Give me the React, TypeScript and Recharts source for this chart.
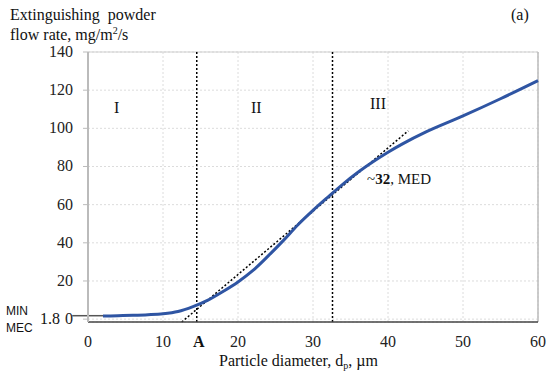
import React from 'react';
import { LineChart, Line, XAxis, YAxis, CartesianGrid, ReferenceLine } from 'recharts';

// particle diameter (µm) vs extinguishing powder flow rate (mg/m²/s)
const diameters = [2, 4, 6, 8, 10, 12, 14, 16, 18, 20, 22, 24, 26, 28, 30, 32, 34, 36, 38, 40, 42, 45, 50, 55, 60];
const flowRates = [1.6, 1.8, 2.0, 2.3, 2.8, 4.0, 6.6, 10, 14.5, 19.5, 25.5, 33, 41, 49.5, 57, 64, 70.8, 77, 82.5, 87.5, 92, 98, 106.5, 115.5, 125];

// dotted tangent through A and MED
const tangentX = [12.5, 42.7];
const tangentY = [-1.5, 98.7];

const xTicks = [0, 10, 20, 30, 40, 50, 60];
const yTicks = [0, 20, 40, 60, 80, 100, 120, 140];

const pointA = 14.5;
const pointMED = 32.6;
const minMEC = 1.8;

const curveData = diameters.map((d, i) => ({ d, v: flowRates[i] }));
const tangentData = tangentX.map((d, i) => ({ d, v: tangentY[i] }));

const serif = '"Liberation Serif", "Times New Roman", serif';

const label = (extra: React.CSSProperties): React.CSSProperties => ({
  position: 'absolute',
  fontFamily: serif,
  fontSize: 16,
  color: '#111',
  whiteSpace: 'nowrap',
  lineHeight: 1,
  ...extra,
});

const XTick = (props: any) => {
  const { x, y, payload } = props;
  return (
    <text x={x} y={y} dy={10} textAnchor="middle" fill="#222" fontSize={16} fontFamily={serif}>
      {payload.value}
    </text>
  );
};

const YTick = (props: any) => {
  const { x, y, payload } = props;
  return (
    <text x={x} y={y} dy={5} textAnchor="end" fill="#222" fontSize={16} fontFamily={serif}>
      {payload.value}
    </text>
  );
};

export default function App() {
  return (
    <div style={{ position: 'absolute', left: 0, top: 0, width: 550, height: 374, background: '#fff', fontFamily: serif }}>
      <LineChart
        width={550}
        height={374}
        margin={{ top: 52, right: 12, bottom: 22, left: 0 }}
      >
        <CartesianGrid strokeDasharray="2 2" stroke="#dcdcdc" />
        <XAxis
          type="number"
          dataKey="d"
          domain={[0, 60]}
          ticks={xTicks}
          height={30}
          tickLine={false}
          axisLine={{ stroke: '#444', strokeWidth: 1.5 }}
          tick={<XTick />}
          tickMargin={9}
        />
        <YAxis
          type="number"
          domain={[0, 140]}
          ticks={yTicks}
          width={88}
          tickSize={5}
          tickLine={{ stroke: '#bbb' }}
          axisLine={{ stroke: '#bbb', strokeWidth: 2 }}
          tick={<YTick />}
          tickMargin={10}
          interval={0}
        />
        <ReferenceLine y={140} stroke="#cfcfcf" />
        <ReferenceLine x={60} stroke="#bbb" strokeWidth={1.5} />
        <ReferenceLine x={pointA} stroke="#000" strokeWidth={1.5} strokeDasharray="2 2" />
        <ReferenceLine x={pointMED} stroke="#000" strokeWidth={1.5} strokeDasharray="2 2" />
        <ReferenceLine
          segment={[{ x: -2.1, y: minMEC }, { x: diameters[0], y: minMEC }]}
          stroke="#555"
          strokeWidth={1.5}
          ifOverflow="visible"
        />
        <Line
          data={tangentData}
          dataKey="v"
          stroke="#000"
          strokeWidth={1.5}
          strokeDasharray="2 2"
          dot={false}
          activeDot={false}
          isAnimationActive={false}
        />
        <Line
          data={curveData}
          dataKey="v"
          type="monotone"
          stroke="#2f55a3"
          strokeWidth={3}
          dot={false}
          activeDot={false}
          isAnimationActive={false}
        />
      </LineChart>

      <div style={label({ left: 10, top: 7 })}>Extinguishing&nbsp; powder</div>
      <div style={label({ left: 10, top: 26 })}>
        flow rate, mg/m<sup style={{ fontSize: 10, verticalAlign: 6 }}>2</sup>/s
      </div>
      <div style={label({ left: 511, top: 7 })}>(a)</div>

      <div style={label({ left: 114, top: 100 })}>I</div>
      <div style={label({ left: 251, top: 100 })}>II</div>
      <div style={label({ left: 370, top: 96 })}>III</div>
      <div style={label({ left: 367, top: 172, fontSize: 15 })}>
        ~<b>32</b>, MED
      </div>

      <div style={label({ left: 193, top: 334, fontWeight: 'bold' })}>A</div>
      <div style={label({ left: 219, top: 353 })}>
        Particle diameter, d<sub style={{ fontSize: 10, verticalAlign: -3 }}>p</sub>, µm
      </div>

      <div style={label({ left: 6, top: 303, fontFamily: '"Liberation Sans", Arial, sans-serif', fontSize: 12, lineHeight: '17px' })}>
        MIN<br />MEC
      </div>
      <div style={label({ left: 40, top: 311 })}>1.8</div>
    </div>
  );
}
